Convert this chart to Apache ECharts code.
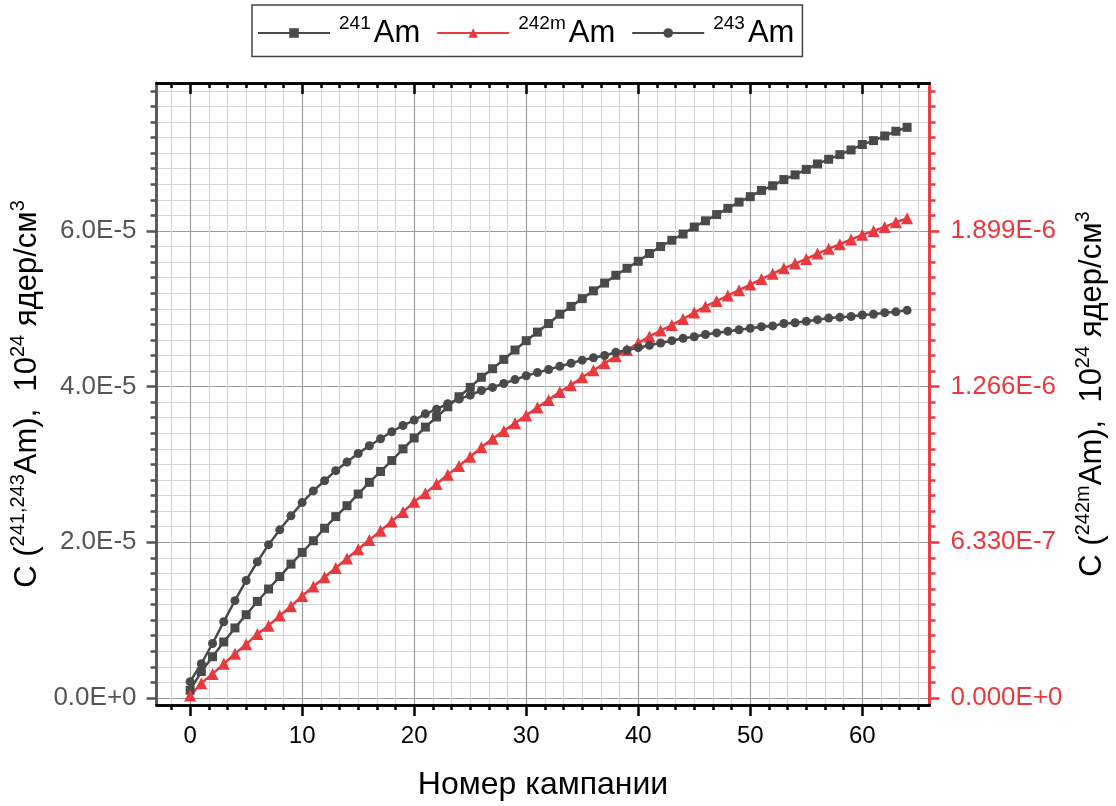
<!DOCTYPE html>
<html><head><meta charset="utf-8">
<script src="https://cdn.jsdelivr.net/npm/echarts@6/dist/echarts.min.js"></script>
<style>html,body{margin:0;padding:0;background:#fff}#c{width:1116px;height:806px}</style>
</head><body><div id="c"></div>
<script>
// ---- data ----
const campaigns = [0,1,2,3,4,5,6,7,8,9,10,11,12,13,14,15,16,17,18,19,20,21,22,23,24,25,26,27,28,29,30,31,32,33,34,35,36,37,38,39,40,41,42,43,44,45,46,47,48,49,50,51,52,53,54,55,56,57,58,59,60,61,62,63,64];
const am241 = [0.10e-5,0.34e-5,0.53e-5,0.72e-5,0.90e-5,1.07e-5,1.24e-5,1.40e-5,1.56e-5,1.72e-5,1.87e-5,2.02e-5,2.18e-5,2.33e-5,2.47e-5,2.62e-5,2.77e-5,2.91e-5,3.05e-5,3.20e-5,3.34e-5,3.48e-5,3.61e-5,3.74e-5,3.87e-5,3.99e-5,4.12e-5,4.23e-5,4.35e-5,4.47e-5,4.59e-5,4.70e-5,4.81e-5,4.93e-5,5.03e-5,5.13e-5,5.23e-5,5.33e-5,5.43e-5,5.52e-5,5.61e-5,5.71e-5,5.80e-5,5.88e-5,5.96e-5,6.05e-5,6.13e-5,6.21e-5,6.29e-5,6.37e-5,6.44e-5,6.52e-5,6.58e-5,6.66e-5,6.72e-5,6.79e-5,6.86e-5,6.92e-5,6.98e-5,7.04e-5,7.11e-5,7.16e-5,7.22e-5,7.28e-5,7.33e-5];
const am242m = [0.10e-7,0.60e-7,0.98e-7,1.39e-7,1.80e-7,2.18e-7,2.60e-7,2.94e-7,3.35e-7,3.73e-7,4.15e-7,4.53e-7,4.91e-7,5.29e-7,5.67e-7,6.05e-7,6.42e-7,6.80e-7,7.18e-7,7.56e-7,7.98e-7,8.32e-7,8.70e-7,9.08e-7,9.43e-7,9.81e-7,10.19e-7,10.54e-7,10.86e-7,11.17e-7,11.49e-7,11.81e-7,12.12e-7,12.44e-7,12.72e-7,13.04e-7,13.32e-7,13.61e-7,13.89e-7,14.15e-7,14.43e-7,14.70e-7,14.94e-7,15.16e-7,15.41e-7,15.67e-7,15.92e-7,16.14e-7,16.36e-7,16.58e-7,16.81e-7,17.03e-7,17.25e-7,17.47e-7,17.66e-7,17.85e-7,18.07e-7,18.26e-7,18.45e-7,18.64e-7,18.83e-7,18.99e-7,19.15e-7,19.34e-7,19.50e-7];
const am243 = [0.21e-5,0.44e-5,0.70e-5,0.98e-5,1.25e-5,1.51e-5,1.75e-5,1.97e-5,2.16e-5,2.34e-5,2.51e-5,2.66e-5,2.79e-5,2.92e-5,3.03e-5,3.14e-5,3.24e-5,3.33e-5,3.42e-5,3.50e-5,3.57e-5,3.65e-5,3.71e-5,3.78e-5,3.84e-5,3.89e-5,3.95e-5,3.99e-5,4.04e-5,4.09e-5,4.14e-5,4.18e-5,4.22e-5,4.26e-5,4.30e-5,4.34e-5,4.37e-5,4.40e-5,4.44e-5,4.47e-5,4.50e-5,4.53e-5,4.56e-5,4.59e-5,4.62e-5,4.64e-5,4.67e-5,4.69e-5,4.71e-5,4.73e-5,4.75e-5,4.77e-5,4.78e-5,4.81e-5,4.82e-5,4.84e-5,4.86e-5,4.88e-5,4.89e-5,4.90e-5,4.92e-5,4.93e-5,4.95e-5,4.96e-5,4.98e-5];
const xMajorTicks = [0,10,20,30,40,50,60];
const leftMajorTicks = [0, 2e-5, 4e-5, 6e-5];
const rightMajorTicks = [0, 6.33e-7, 1.266e-6, 1.899e-6];
const seriesNames = ['241Am', '242mAm', '243Am'];
const legendLabels = {'241Am': '{s|241}{n|Am}', '242mAm': '{s|242m}{n|Am}', '243Am': '{s|243}{n|Am}'};
const leftName = '{n|C (}{s|241,243}{n|Am),  10}{s|24}{n| ядер/см}{s|3}';
const rightName = '{n|C (}{s|242m}{n|Am),  10}{s|24}{n| ядер/см}{s|3}';
const xName = 'Номер кампании';

// ---- axis ranges / tick layouts ----
const X_MIN = -3, X_MAX = 66;
const L_MIN = -0.09e-5, L_MAX = 7.9e-5;
const RATIO = 6.33e-7 / 2e-5;
const R_MIN = L_MIN * RATIO, R_MAX = L_MAX * RATIO;
const xMinor = [];
for (let k = -2; k * 10 / 6 <= X_MAX; k++) { if (k % 6 !== 0 && k * 10 / 6 >= X_MIN) xMinor.push(k * 10 / 6); }
const leftMinor = [];
for (let k = 0; k * 2e-6 <= L_MAX; k++) { if (k % 10 !== 0) leftMinor.push(k * 2e-6); }
const rightMinor = [];
for (let k = 0; k * 6.33e-8 <= R_MAX; k++) { if (k % 10 !== 0) rightMinor.push(k * 6.33e-8); }

const FONT = '"Liberation Sans", Arial, Helvetica, sans-serif';
const GRAY = '#4a4a4a';
const RED = '#e8393e';
const MINOR_GRID = '#d6d6d6';
const MAJOR_GRID = '#9c9c9c';

function xAx(pos, ticks, len, inside, extra) {
  return Object.assign({
    type: 'value', position: pos, min: X_MIN, max: X_MAX,
    axisLine: { show: true, onZero: false, lineStyle: { color: '#000', width: 2.5 } },
    axisTick: { show: true, customValues: ticks, length: len, inside: inside, lineStyle: { color: '#000', width: 2.5 } },
    axisLabel: { show: false },
    splitLine: { show: false }
  }, extra || {});
}
function yAx(pos, min, max, ticks, len, color, extra) {
  return Object.assign({
    type: 'value', position: pos, min: min, max: max,
    axisLine: { show: true, onZero: false, lineStyle: { color: color, width: 2.5 } },
    axisTick: { show: true, customValues: ticks, length: len, inside: false, lineStyle: { color: color, width: 2.5 } },
    axisLabel: { show: false },
    splitLine: { show: false }
  }, extra || {});
}

const nameRich = {
  n: { fontSize: 31, fontFamily: FONT, color: '#000', lineHeight: 38 },
  s: { fontSize: 20, fontFamily: FONT, color: '#000', lineHeight: 20, verticalAlign: 'top' }
};

const chart = echarts.init(document.getElementById('c'), null, { renderer: 'canvas' });
chart.setOption({
  animation: false,
  backgroundColor: '#fff',
  grid: { left: 156, right: 186, top: 83, bottom: 99, containLabel: false },
  legend: {
    left: 252, top: 5, padding: [9, 8, 8, 5],
    itemWidth: 72, itemHeight: 12, itemGap: 16,
    borderColor: '#444', borderWidth: 1.5,
    data: seriesNames,
    formatter: name => legendLabels[name],
    textStyle: {
      rich: {
        n: { fontSize: 31, fontFamily: FONT, color: '#000', lineHeight: 38, padding: [0, 0, 0, 3] },
        s: { fontSize: 19, fontFamily: FONT, color: '#000', lineHeight: 19, verticalAlign: 'top', padding: [0, 0, 0, 4] }
      }
    }
  },
  xAxis: [
    xAx('bottom', xMinor, 5, false, { splitLine: { show: true, lineStyle: { color: MINOR_GRID, width: 1.2 } } }),
    xAx('bottom', xMajorTicks, 11, false, {
      splitLine: { show: true, lineStyle: { color: MAJOR_GRID, width: 1.2 } },
      axisLabel: { show: true, customValues: xMajorTicks, color: '#000', fontSize: 24, fontFamily: FONT, margin: 19 },
      name: xName, nameLocation: 'middle', nameGap: 64,
      nameTextStyle: { fontSize: 32, fontFamily: FONT, color: '#000' }
    }),
    xAx('top', xMinor, 5, true),
    xAx('top', xMajorTicks, 11, true)
  ],
  yAxis: [
    yAx('left', L_MIN, L_MAX, leftMinor, 6, '#555', { splitLine: { show: true, lineStyle: { color: MINOR_GRID, width: 1.2 } } }),
    yAx('left', L_MIN, L_MAX, leftMajorTicks, 10, '#555', {
      splitLine: { show: true, lineStyle: { color: MAJOR_GRID, width: 1.2 } },
      axisLabel: { show: true, customValues: leftMajorTicks, color: '#555', fontSize: 26, fontFamily: FONT, margin: 20,
        formatter: v => v.toExponential(1).toUpperCase() },
      name: leftName, nameLocation: 'middle', nameGap: 103,
      nameTextStyle: { rich: nameRich }
    }),
    yAx('right', R_MIN, R_MAX, rightMinor, 6, RED),
    yAx('right', R_MIN, R_MAX, rightMajorTicks, 10, RED, {
      axisLabel: { show: true, customValues: rightMajorTicks, color: RED, fontSize: 26, fontFamily: FONT, margin: 21,
        formatter: v => v.toExponential(3).toUpperCase() },
      name: rightName, nameLocation: 'middle', nameGap: 144,
      nameTextStyle: { rich: nameRich }
    })
  ],
  series: [
    { name: seriesNames[0], type: 'line', xAxisIndex: 1, yAxisIndex: 1,
      data: campaigns.map((c, i) => [c, am241[i]]),
      symbol: 'rect', symbolSize: 9, lineStyle: { color: GRAY, width: 2.5 }, itemStyle: { color: GRAY } },
    { name: seriesNames[1], type: 'line', xAxisIndex: 1, yAxisIndex: 3,
      data: campaigns.map((c, i) => [c, am242m[i]]),
      symbol: 'triangle', symbolSize: 12, lineStyle: { color: RED, width: 2.5 }, itemStyle: { color: RED } },
    { name: seriesNames[2], type: 'line', xAxisIndex: 1, yAxisIndex: 1,
      data: campaigns.map((c, i) => [c, am243[i]]),
      symbol: 'circle', symbolSize: 9, lineStyle: { color: GRAY, width: 2.5 }, itemStyle: { color: GRAY } }
  ]
});
</script></body></html>
